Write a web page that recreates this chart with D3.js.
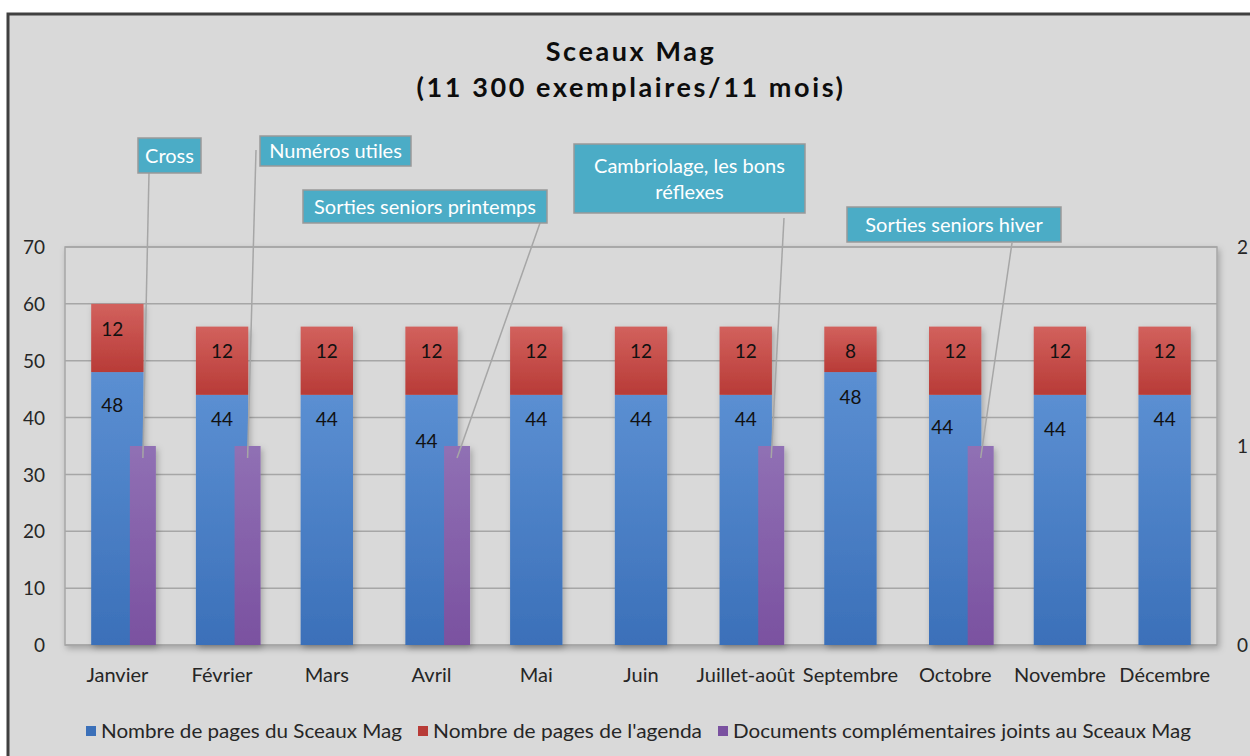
<!DOCTYPE html>
<html>
<head>
<meta charset="utf-8">
<script src="https://cdn.jsdelivr.net/npm/d3@7"></script>
<style>
  body { margin: 0; background: #fff; }
  svg text { font-family: Lato, "Open Sans", sans-serif; }
</style>
</head>
<body>
<svg id="chart" width="1250" height="756"></svg>
<script>

// data
let months = ['Janvier', 'Février', 'Mars', 'Avril', 'Mai', 'Juin',
    'Juillet-août', 'Septembre', 'Octobre', 'Novembre', 'Décembre'];
let magPages = [48, 44, 44, 44, 44, 44, 44, 48, 44, 44, 44];
let agendaPages = [12, 12, 12, 12, 12, 12, 12, 8, 12, 12, 12];
let extraDocs = [1, 1, 0, 1, 0, 0, 1, 0, 1, 0, 0];
let leftTicks = [0, 10, 20, 30, 40, 50, 60, 70];
let rightTicks = [0, 1, 2];
let seriesNames = ['Nombre de pages du Sceaux Mag', "Nombre de pages de l'agenda",
    'Documents complémentaires joints au Sceaux Mag'];
let calloutTexts = [['Cross'], ['Numéros utiles'], ['Sorties seniors printemps'],
    ['Cambriolage, les bons', 'réflexes'], ['Sorties seniors hiver']];
let calloutMonths = ['Janvier', 'Février', 'Avril', 'Juillet-août', 'Octobre'];

// layout
let Plot = { left: 65, right: 1217, top: 247, bottom: 645 };
let Colors = {
    bg: '#d9d9d9', grid: '#a6a6a6', text: '#262626',
    blue: ['#5b8fd2', '#3b70b9'], red: ['#d2615d', '#b83b37'], purple: ['#9070b4', '#7a51a0'],
    callout: '#4bacc6'
};
// box placement of each callout and where its leader starts
let calloutLayout = [
    { x: 138, y: 138, w: 63, h: 35, sx: 149, sy: 173 },
    { x: 260, y: 136, w: 151, h: 30, sx: 256, sy: 150 },
    { x: 303, y: 190, w: 244, h: 33, sx: 540, sy: 223 },
    { x: 574, y: 144, w: 231, h: 69, sx: 784, sy: 218 },
    { x: 847, y: 207, w: 214, h: 35, sx: 1012, sy: 243 }
];
// small hand nudges on the data labels, as in the picture
let blueNudge = { 0: [-5, 8], 3: [-5, 22], 8: [-13, 8], 9: [-5, 10] };
let redNudge = { 0: [-5, 0] };

let svg = d3.select('#chart');
let defs = svg.append('defs');

[['blue', Colors.blue], ['red', Colors.red], ['purple', Colors.purple]].forEach(([id, c]) => {
    let g = defs.append('linearGradient').attr('id', 'g-' + id)
        .attr('x1', 0).attr('y1', 0).attr('x2', 0).attr('y2', 1);
    g.append('stop').attr('offset', 0).attr('stop-color', c[0]);
    g.append('stop').attr('offset', 1).attr('stop-color', c[1]);
});
defs.append('filter').attr('id', 'shadow').attr('x', -0.1).attr('y', -0.1).attr('width', 1.3).attr('height', 1.3)
    .append('feDropShadow').attr('dx', 2).attr('dy', 3).attr('stdDeviation', 3)
    .attr('flood-color', '#000').attr('flood-opacity', 0.25);

// chart background and frame
svg.append('rect').attr('x', 8).attr('y', 14).attr('width', 1260).attr('height', 760)
    .attr('fill', Colors.bg).attr('stroke', '#404040').attr('stroke-width', 3);

// title
let title = svg.append('text').attr('text-anchor', 'middle')
    .attr('font-weight', 'bold').attr('font-size', 27).attr('fill', '#0d0d0d')
    .style('letter-spacing', '2.6px');
title.append('tspan').attr('x', 631).attr('y', 61).text('Sceaux Mag');
title.append('tspan').attr('x', 631).attr('y', 97).text('(11 300 exemplaires/11 mois)');

let x = d3.scaleBand().domain(months).range([Plot.left, Plot.right]);
let y = d3.scaleLinear().domain([0, 70]).range([Plot.bottom, Plot.top]);
let y2 = d3.scaleLinear().domain([0, 2]).range([Plot.bottom, Plot.top]);

// plot area
svg.append('rect')
    .attr('x', Plot.left).attr('y', Plot.top)
    .attr('width', Plot.right - Plot.left).attr('height', Plot.bottom - Plot.top)
    .attr('fill', Colors.bg).attr('stroke', Colors.grid).attr('stroke-width', 1.5)
    .attr('filter', 'url(#shadow)');

svg.append('g')
    .selectAll('line')
    .data(leftTicks)
    .join('line')
    .attr('x1', Plot.left).attr('x2', Plot.right)
    .attr('y1', d => y(d)).attr('y2', d => y(d))
    .attr('stroke', Colors.grid).attr('stroke-width', 1.5);

// axes
let leftAxis = svg.append('g')
    .attr('transform', `translate(${Plot.left - 16},0)`)
    .call(d3.axisLeft(y).tickValues(leftTicks).tickSize(0).tickPadding(4));
let rightAxis = svg.append('g')
    .attr('transform', `translate(${Plot.right + 16},0)`)
    .call(d3.axisRight(y2).tickValues(rightTicks).tickFormat(d3.format('d')).tickSize(0).tickPadding(4));
let bottomAxis = svg.append('g')
    .attr('transform', `translate(0,${Plot.bottom + 19})`)
    .call(d3.axisBottom(x).tickSize(0).tickPadding(4));
[leftAxis, rightAxis, bottomAxis].forEach(a => {
    a.select('.domain').remove();
    a.selectAll('text').attr('font-size', 19).attr('fill', Colors.text)
        .style('font-family', 'Lato, sans-serif');
});
bottomAxis.selectAll('text').attr('font-size', 20);
leftAxis.selectAll('text').attr('dy', '0.35em');
rightAxis.selectAll('text').attr('dy', '0.35em');

// stacked columns (primary axis)
let barW = x.bandwidth() * 0.5;
let stackRows = months.map((m, i) => ({ month: m, mag: magPages[i], agenda: agendaPages[i] }));
let series = d3.stack().keys(['mag', 'agenda'])(stackRows);
let fills = { mag: 'url(#g-blue)', agenda: 'url(#g-red)' };

let barLayer = svg.append('g').attr('filter', 'url(#shadow)');
barLayer.selectAll('g')
    .data(series)
    .join('g')
    .attr('fill', s => fills[s.key])
    .selectAll('rect')
    .data(s => s)
    .join('rect')
    .attr('x', d => x(d.data.month) + (x.bandwidth() - barW) / 2)
    .attr('width', barW)
    .attr('y', d => y(d[1]))
    .attr('height', d => y(d[0]) - y(d[1]));

// extra documents (secondary axis)
let docW = 26;
let docX = m => x(m) + x.bandwidth() / 2 + 25.5 - docW / 2;
let docRows = months.map((m, i) => ({ month: m, value: extraDocs[i] })).filter(d => d.value > 0);
barLayer.append('g').attr('fill', 'url(#g-purple)')
    .selectAll('rect')
    .data(docRows)
    .join('rect')
    .attr('x', d => docX(d.month))
    .attr('width', docW)
    .attr('y', d => y2(d.value))
    .attr('height', d => y2(0) - y2(d.value));

// data labels
let labelLayer = svg.append('g').attr('font-size', 19).attr('fill', '#111')
    .attr('text-anchor', 'middle');
series.forEach(s => {
    let nudges = s.key === 'mag' ? blueNudge : redNudge;
    labelLayer.append('g')
        .selectAll('text')
        .data(s)
        .join('text')
        .attr('x', (d, i) => x(d.data.month) + x.bandwidth() / 2 + (nudges[i] ? nudges[i][0] : 0))
        .attr('y', (d, i) => y(d[1]) + 25 + (nudges[i] ? nudges[i][1] : 0))
        .attr('dy', '0.35em')
        .text(d => d[1] - d[0]);
});

// callouts
let callouts = calloutTexts.map((t, i) => ({ lines: t, month: calloutMonths[i], box: calloutLayout[i] }));
let cg = svg.append('g');
cg.selectAll('line')
    .data(callouts)
    .join('line')
    .attr('x1', d => d.box.sx).attr('y1', d => d.box.sy)
    .attr('x2', d => docX(d.month) + docW / 2)
    .attr('y2', d => y2(extraDocs[months.indexOf(d.month)]) + 12)
    .attr('stroke', '#a6a6a6').attr('stroke-width', 1.5);
let boxes = cg.selectAll('g.box')
    .data(callouts)
    .join('g').attr('class', 'box');
boxes.append('rect')
    .attr('x', d => d.box.x).attr('y', d => d.box.y)
    .attr('width', d => d.box.w).attr('height', d => d.box.h)
    .attr('fill', Colors.callout).attr('stroke', '#999').attr('stroke-width', 1.5);
boxes.append('text')
    .attr('text-anchor', 'middle').attr('fill', '#fff').attr('font-size', 20)
    .selectAll('tspan')
    .data(d => d.lines.map((l, k) => ({ l, k, d })))
    .join('tspan')
    .attr('x', o => o.d.box.x + o.d.box.w / 2)
    .attr('y', o => o.d.box.y + o.d.box.h / 2 + (o.k - (o.d.lines.length - 1) / 2) * 26)
    .attr('dy', '0.35em')
    .text(o => o.l);

// legend
let legendColors = [Colors.blue[1], Colors.red[1], Colors.purple[1]];
let legendWidths = [301, 269, 458];
let legend = svg.append('g').attr('transform', 'translate(86,731)');
let lx = 0;
seriesNames.forEach((name, i) => {
    let item = legend.append('g').attr('transform', `translate(${lx},0)`);
    item.append('rect').attr('x', 0).attr('y', -5).attr('width', 10).attr('height', 10)
        .attr('fill', legendColors[i]);
    item.append('text').attr('x', 15).attr('dy', '0.35em').attr('font-size', 19)
        .attr('fill', Colors.text)
        .attr('textLength', legendWidths[i]).attr('lengthAdjust', 'spacingAndGlyphs')
        .text(name);
    lx += 15 + legendWidths[i] + 16;
});
</script>
</body>
</html>
